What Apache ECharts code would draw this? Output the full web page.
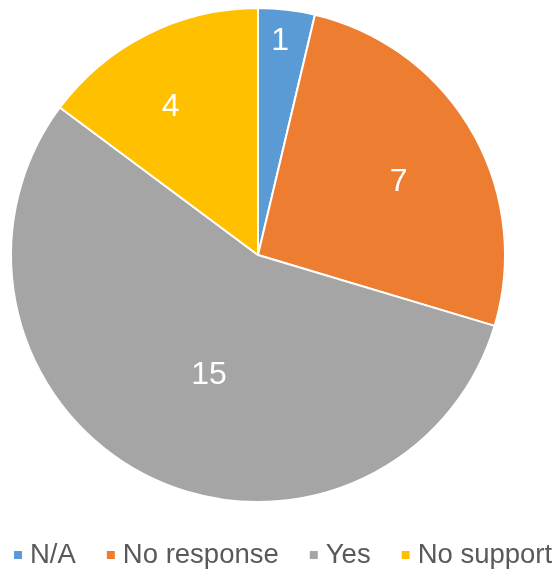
<!DOCTYPE html>
<html>
<head>
<meta charset="utf-8">
<script src="https://cdn.jsdelivr.net/npm/echarts@6/dist/echarts.min.js"></script>
<style>
html,body{margin:0;padding:0;background:#fff;}
#chart{width:557px;height:572px;}
</style>
</head>
<body>
<div id="chart"></div>
<script>
// Survey answers
const categories = ['N/A', 'No response', 'Yes', 'No support'];
const counts = [1, 7, 15, 4];
const colors = ['#5B9BD5', '#ED7D31', '#A5A5A5', '#FFC000'];
// where each value label sits: share of the radius, and a small turn (degrees) off the slice middle
const labelRadius = [0.875, 0.643, 0.521, 0.698];
const labelTurn = [-0.8, 2.4, -4.3, -3.8];

const CX = 258, CY = 255, R = 247;
const total = counts.reduce((a, b) => a + b, 0);
const FONT = 'Liberation Sans, Arial, sans-serif';

const chart = echarts.init(document.getElementById('chart'));
chart.setOption({
  animation: false,
  color: colors,
  legend: {
    top: 541,
    left: 12,
    padding: 0,
    itemWidth: 10,
    itemHeight: 10,
    itemGap: 29,
    icon: 'rect',
    textStyle: {
      fontFamily: FONT,
      fontSize: 27.5,
      color: '#595959',
      padding: [0, 0, 0, 2]
    },
    data: categories
  },
  series: [{
    type: 'pie',
    center: [CX, CY],
    radius: [0, R],
    startAngle: 90,
    clockwise: true,
    itemStyle: { borderColor: '#fff', borderWidth: 2 },
    label: {
      show: true,
      position: 'inside',
      formatter: '{c}',
      color: '#fff',
      fontFamily: FONT,
      fontSize: 32
    },
    labelLayout: function (p) {
      const i = p.dataIndex;
      let before = 0;
      for (let k = 0; k < i; k++) before += counts[k];
      const mid = (before + counts[i] / 2) / total * 2 * Math.PI + labelTurn[i] * Math.PI / 180;
      const r = R * labelRadius[i];
      return {
        x: CX + r * Math.sin(mid),
        y: CY - r * Math.cos(mid) + 1,
        align: 'center',
        verticalAlign: 'middle'
      };
    },
    emphasis: { disabled: true },
    data: categories.map((c, i) => ({ name: c, value: counts[i] }))
  }]
});
</script>
</body>
</html>
